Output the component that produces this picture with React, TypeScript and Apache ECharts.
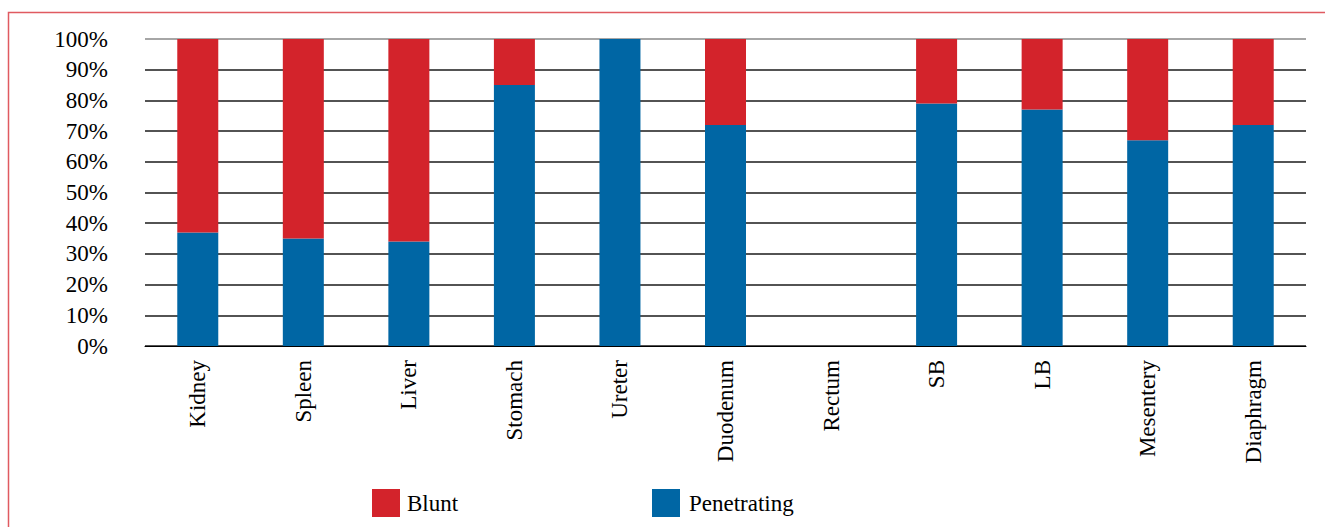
import React, { useEffect, useRef } from "react";
import * as echarts from "echarts";

const categories = ["Kidney", "Spleen", "Liver", "Stomach", "Ureter", "Duodenum", "Rectum", "SB", "LB", "Mesentery", "Diaphragm"];
const penetrating = [37, 35, 34, 85, 100, 72, 0, 79, 77, 67, 72];
const blunt = [63, 65, 66, 15, 0, 28, 0, 21, 23, 33, 28];
const yTicks = [0, 10, 20, 30, 40, 50, 60, 70, 80, 90, 100];

const RED = "#d3232b";
const BLUE = "#0066a4";
const FONT = "Liberation Serif";

export default function App() {
  const ref = useRef<HTMLDivElement>(null);
  useEffect(() => {
    if (!ref.current) return;
    const chart = echarts.init(ref.current, null, { renderer: "svg" });
    const gridColors = yTicks.map((t) => (t === 100 ? "#888888" : "#1a1a1a"));
    chart.setOption({
      animation: false,
      backgroundColor: "#ffffff",
      textStyle: { fontFamily: FONT, fontSize: 23 },
      graphic: [
        {
          type: "rect",
          shape: { x: 8.5, y: 12.5, width: 1340, height: 600 },
          style: { fill: "none", stroke: "#e05a60", lineWidth: 1.5 },
          silent: true,
        },
      ],
      grid: { left: 145, right: 19, top: 39, bottom: 181, containLabel: false },
      legend: [
        {
          data: ["Blunt"],
          left: 372,
          top: 489,
          padding: 0,
          itemWidth: 28,
          itemHeight: 28,
          itemGap: 0,
          icon: "rect",
          textStyle: { fontFamily: FONT, fontSize: 23, color: "#000", padding: [0, 0, 0, 2] },
        },
        {
          data: ["Penetrating"],
          left: 652,
          top: 489,
          padding: 0,
          itemWidth: 28,
          itemHeight: 28,
          itemGap: 0,
          icon: "rect",
          textStyle: { fontFamily: FONT, fontSize: 23, color: "#000", padding: [0, 0, 0, 4] },
        },
      ],
      xAxis: {
        type: "category",
        data: categories,
        axisTick: { show: false },
        axisLine: { lineStyle: { color: "#000", width: 1 } },
        axisLabel: {
          rotate: 90,
          margin: 14,
          interval: 0,
          fontFamily: FONT,
          fontSize: 23,
          color: "#000",
        },
      },
      yAxis: {
        type: "value",
        min: 0,
        max: 100,
        interval: 10,
        axisLine: { show: false },
        axisTick: { show: false },
        axisLabel: {
          formatter: (v: number) => v + "%",
          margin: 37,
          fontFamily: FONT,
          fontSize: 23,
          color: "#000",
        },
        splitLine: { lineStyle: { color: gridColors, width: 1.5 } },
      },
      series: [
        {
          name: "Penetrating",
          type: "bar",
          stack: "total",
          data: penetrating,
          barWidth: 41,
          itemStyle: { color: BLUE },
        },
        {
          name: "Blunt",
          type: "bar",
          stack: "total",
          data: blunt,
          barWidth: 41,
          itemStyle: { color: RED },
        },
      ],
    });
    return () => chart.dispose();
  }, []);
  return (
    <div style={{ position: "absolute", left: 0, top: 0, width: 1325, height: 527 }}>
      <div ref={ref} style={{ width: 1325, height: 527 }} />
    </div>
  );
}
